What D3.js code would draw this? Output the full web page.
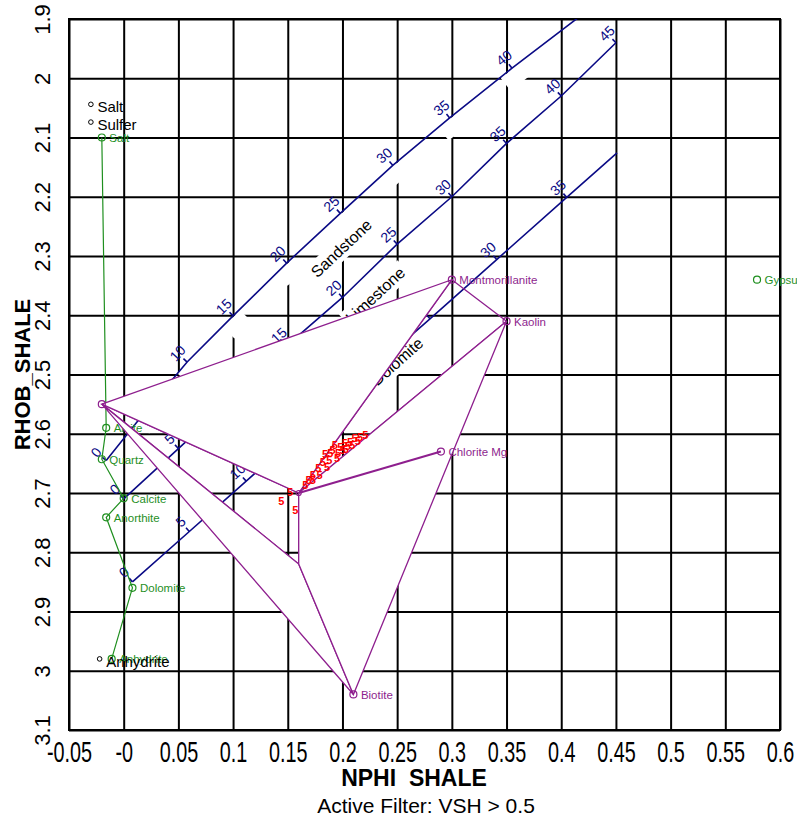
<!DOCTYPE html>
<html>
<head>
<meta charset="utf-8">
<style>
  body { margin: 0; background: #fff; }
  svg { display: block; font-family: "Liberation Sans", Arial, sans-serif; }
</style>
</head>
<body>
<svg width="797" height="822"></svg>
<script src="https://d3js.org/d3.v7.min.js"></script>
<script>

// axes
var xTicks = [-0.05, 0, 0.05, 0.1, 0.15, 0.2, 0.25, 0.3, 0.35, 0.4, 0.45, 0.5, 0.55, 0.6];
var xTickLabels = ["-0.05", "-0", "0.05", "0.1", "0.15", "0.2", "0.25", "0.3", "0.35", "0.4", "0.45", "0.5", "0.55", "0.6"];
var yTicks = [1.9, 2, 2.1, 2.2, 2.3, 2.4, 2.5, 2.6, 2.7, 2.8, 2.9, 3, 3.1];
var yTickLabels = ["1.9", "2", "2.1", "2.2", "2.3", "2.4", "2.5", "2.6", "2.7", "2.8", "2.9", "3", "3.1"];

// porosity lines (null = end of line, no tick)
var sandPhi  = [0, 5, 10, 15, 20, 25, 30, 35, 40, null];
var sandNphi = [-0.016, 0.020, 0.058, 0.100, 0.149, 0.198, 0.246, 0.298, 0.355, 0.416];
var sandRhob = [2.645, 2.562, 2.479, 2.401, 2.312, 2.228, 2.147, 2.067, 1.983, 1.897];

var limePhi  = [0, 5, 10, 15, 20, 25, 30, 35, 40, 45];
var limeNphi = [0, 0.05, 0.10, 0.15, 0.20, 0.25, 0.30, 0.35, 0.40, 0.45];
var limeRhob = [2.71, 2.625, 2.54, 2.45, 2.37, 2.28, 2.20, 2.11, 2.03, 1.94];

var dolPhi  = [0, 5, 10, 15, 20, 25, 30, 35, null];
var dolNphi = [0.008, 0.060, 0.112, 0.165, 0.222, 0.280, 0.341, 0.405, 0.451];
var dolRhob = [2.85, 2.765, 2.68, 2.593, 2.50, 2.406, 2.306, 2.201, 2.126];

var lithNames = ["Sandstone", "Limestone", "Dolomite"];
var lithLabelNphi = [0.199, 0.230, 0.250];
var lithLabelRhob = [2.287, 2.366, 2.478];

// mineral line (green)
var minNames = ["Salt", "Albite", "Quartz", "Calcite", "Anorthite", "Dolomite", "Anhydrite"];
var minNphi  = [-0.020, -0.016, -0.020, 0.000, -0.016, 0.008, -0.011];
var minRhob  = [2.10, 2.59, 2.643, 2.709, 2.741, 2.86, 2.98];
var gypsum = {name: "Gypsum", nphi: 0.579, rhob: 2.34};

// other minerals (black)
var otherNames = ["Salt", "Sulfer", "Anhydrite"];
var otherNphi  = [-0.030, -0.030, -0.022];
var otherRhob  = [2.044, 2.074, 2.98];

// clay points (purple): dry point, clays, wet shale points
var clayNames = ["", "Montmorillanite", "Kaolin", "Chlorite Mg", "Biotite", "", ""];
var clayNphi  = [-0.02, 0.30, 0.35, 0.29, 0.21, 0.16, 0.16];
var clayRhob  = [2.55, 2.34, 2.41, 2.63, 3.04, 2.70, 2.82];
var solidPolys = [[0, 1, 5], [0, 6, 4], [5, 2, 4, 6]];
var openPolys  = [[1, 2, 5], [0, 5, 6]];
var clayEdges  = [[5, 3]];

// shale samples (VSH > 0.5)
var sampleNphi = [0.152, 0.144, 0.157, 0.166, 0.169, 0.173, 0.173, 0.178, 0.179, 0.182, 0.184, 0.186,
                  0.189, 0.191, 0.193, 0.195, 0.198, 0.200, 0.202, 0.203, 0.207, 0.209, 0.211, 0.214,
                  0.216, 0.221, 0.196, 0.188, 0.205];
var sampleRhob = [2.699, 2.713, 2.729, 2.687, 2.679, 2.670, 2.679, 2.658, 2.670, 2.648, 2.635, 2.657,
                  2.633, 2.628, 2.620, 2.642, 2.623, 2.628, 2.616, 2.626, 2.615, 2.620, 2.608, 2.613,
                  2.606, 2.603, 2.632, 2.645, 2.621];

var svg = d3.select("svg");
var mLeft = 69, mTop = 19, w = 711, h = 711;

var x = d3.scaleLinear().domain([-0.05, 0.6]).range([mLeft, mLeft + w]);
var y = d3.scaleLinear().domain([1.9, 3.1]).range([mTop, mTop + h]);

var navy = "#0a0a85", green = "#1f8f1f", purple = "#8e1f8e";

// grid + tick labels
var gx = svg.append("g")
    .attr("transform", "translate(0," + (mTop + h) + ")")
    .call(d3.axisBottom(x).tickValues(xTicks).tickSize(-h).tickSizeOuter(0).tickPadding(11)
      .tickFormat(function(d, i) { return xTickLabels[i]; }));
gx.attr("font-family", null);
gx.select(".domain").remove();
gx.selectAll(".tick line").attr("stroke", "#000").attr("stroke-width", 2);
gx.selectAll(".tick text").attr("fill", "#000").attr("font-size", 30).attr("transform", "scale(0.66,1)");

var gy = svg.append("g")
    .attr("transform", "translate(" + mLeft + ",0)")
    .call(d3.axisLeft(y).tickValues(yTicks).tickSize(-w).tickSizeOuter(0)
      .tickFormat(function(d, i) { return yTickLabels[i]; }));
gy.attr("font-family", null);
gy.select(".domain").remove();
gy.selectAll(".tick line").attr("stroke", "#000").attr("stroke-width", 2);
gy.selectAll(".tick text")
    .attr("fill", "#000").attr("font-size", 22)
    .attr("text-anchor", "middle").attr("x", 0).attr("y", -19).attr("dy", 0)
    .attr("transform", "rotate(-90)");

svg.append("rect").attr("x", mLeft).attr("y", mTop).attr("width", w).attr("height", h)
    .attr("fill", "none").attr("stroke", "#000").attr("stroke-width", 2);

svg.append("text").attr("transform", "translate(30," + (mTop + h / 2) + ") rotate(-90)")
    .attr("text-anchor", "middle").attr("font-weight", "bold").attr("font-size", 22)
    .text("RHOB_SHALE");
svg.append("text").attr("x", 414).attr("y", 786).attr("text-anchor", "middle")
    .attr("font-weight", "bold").attr("font-size", 23).attr("xml:space", "preserve")
    .text("NPHI  SHALE");
svg.append("text").attr("x", 426).attr("y", 813).attr("text-anchor", "middle")
    .attr("font-size", 21).text("Active Filter: VSH > 0.5");

// data layers
svg.append("clipPath").attr("id", "plot").append("rect")
    .attr("x", mLeft).attr("y", mTop).attr("width", w).attr("height", h);
var plot = svg.append("g").attr("clip-path", "url(#plot)");

var line = d3.line().x(function(d) { return d.px; }).y(function(d) { return d.py; });

function lithPoints(phi, nphi, rhob) {
  var pts = phi.map(function(p, i) { return {phi: p, px: x(nphi[i]), py: y(rhob[i])}; });
  pts.forEach(function(d, i) {
    var a = pts[Math.max(i - 1, 0)], b = pts[Math.min(i + 1, pts.length - 1)];
    var dx = b.px - a.px, dy = b.py - a.py, l = Math.sqrt(dx * dx + dy * dy);
    d.ux = dx / l; d.uy = dy / l;
    d.nx = d.uy; d.ny = -d.ux;   // normal toward upper left
    d.ang = Math.atan2(dy, dx) * 180 / Math.PI;
  });
  return pts;
}

var liths = [
  lithPoints(sandPhi, sandNphi, sandRhob),
  lithPoints(limePhi, limeNphi, limeRhob),
  lithPoints(dolPhi, dolNphi, dolRhob)
];

// white boxes left under the sandstone tick labels
plot.selectAll(".tbox").data(liths[0].filter(function(d) { return d.phi !== null && d.phi > 0; }))
  .enter().append("rect")
    .attr("transform", function(d) {
      return "translate(" + (d.px - d.nx * 9 - d.ux * 3) + "," + (d.py - d.ny * 9 - d.uy * 3) + ") rotate(" + d.ang + ")";
    })
    .attr("x", -12).attr("y", -8).attr("width", 24).attr("height", 16).attr("fill", "#fff");

// lithology names with white background
lithNames.forEach(function(name, i) {
  var pts = liths[i], a = pts[0], b = pts[pts.length - 1];
  var ang = Math.atan2(b.py - a.py, b.px - a.px) * 180 / Math.PI;
  var g = plot.append("g")
      .attr("transform", "translate(" + x(lithLabelNphi[i]) + "," + y(lithLabelRhob[i]) + ") rotate(" + ang + ")");
  var t = g.append("text").attr("text-anchor", "middle").attr("dy", "0.35em")
      .attr("font-size", 16).attr("fill", "#000").text(name);
  var bb = t.node().getBBox();
  g.insert("rect", "text").attr("x", bb.x - 3).attr("y", bb.y - 2)
      .attr("width", bb.width + 6).attr("height", bb.height + 4).attr("fill", "#fff");
});

// porosity lines, ticks and labels
liths.forEach(function(pts) {
  plot.append("path").datum(pts).attr("d", line)
      .attr("fill", "none").attr("stroke", navy).attr("stroke-width", 1.6);
  var ticks = pts.filter(function(d) { return d.phi !== null; });
  plot.selectAll(null).data(ticks).enter().append("line")
      .attr("x1", function(d) { return d.px; }).attr("y1", function(d) { return d.py; })
      .attr("x2", function(d) { return d.px + d.nx * 5; }).attr("y2", function(d) { return d.py + d.ny * 5; })
      .attr("stroke", navy).attr("stroke-width", 1.6);
  plot.selectAll(null).data(ticks).enter().append("text")
      .attr("transform", function(d) {
        return "translate(" + (d.px + d.nx * 13) + "," + (d.py + d.ny * 13) + ") rotate(" + d.ang + ")";
      })
      .attr("text-anchor", "middle").attr("dy", "0.35em")
      .attr("font-size", 14).attr("fill", navy)
      .text(function(d) { return d.phi; });
});

// green mineral line (labels are not clipped to the plot)
var minPts = minNames.map(function(n, i) { return {name: n, px: x(minNphi[i]), py: y(minRhob[i])}; });
plot.append("path").datum(minPts).attr("d", line)
    .attr("fill", "none").attr("stroke", green).attr("stroke-width", 1.2);
minPts.push({name: gypsum.name, px: x(gypsum.nphi), py: y(gypsum.rhob)});
var minLayer = svg.append("g");
minLayer.selectAll(".minc").data(minPts).enter().append("circle")
    .attr("cx", function(d) { return d.px; }).attr("cy", function(d) { return d.py; })
    .attr("r", 3.5).attr("fill", "none").attr("stroke", green).attr("stroke-width", 1.2);
minLayer.selectAll(".mint").data(minPts).enter().append("text")
    .attr("x", function(d) { return d.px + 7.5; }).attr("y", function(d) { return d.py + 4.5; })
    .attr("font-size", 11.5).attr("fill", green)
    .text(function(d) { return d.name; });

// clay polygons
var clayLayer = svg.append("g").attr("clip-path", "url(#plot)");
var clayPts = clayNames.map(function(n, i) { return {name: n, px: x(clayNphi[i]), py: y(clayRhob[i])}; });
function polyPath(idx) { return line(idx.map(function(k) { return clayPts[k]; })) + "Z"; }
clayLayer.selectAll(".open").data(openPolys).enter().append("path")
    .attr("d", polyPath).attr("fill", "none").attr("stroke", purple).attr("stroke-width", 1.3);
clayLayer.selectAll(".solid").data(solidPolys).enter().append("path")
    .attr("d", polyPath).attr("fill", "#fff").attr("stroke", purple).attr("stroke-width", 1.3);
clayLayer.selectAll(".edge").data(clayEdges).enter().append("path")
    .attr("d", function(e) { return line(e.map(function(k) { return clayPts[k]; })); })
    .attr("fill", "none").attr("stroke", purple).attr("stroke-width", 2);

// black reference minerals
var top2 = svg.append("g");
var otherPts = otherNames.map(function(n, i) { return {name: n, px: x(otherNphi[i]), py: y(otherRhob[i])}; });
top2.selectAll(".oc").data(otherPts).enter().append("circle")
    .attr("cx", function(d) { return d.px; }).attr("cy", function(d) { return d.py; })
    .attr("r", 2.3).attr("fill", "#fff").attr("stroke", "#000").attr("stroke-width", 1);
top2.selectAll(".ot").data(otherPts).enter().append("text")
    .attr("x", function(d) { return d.px + 6.5; }).attr("y", function(d) { return d.py + 8; })
    .attr("font-size", 15).attr("fill", "#000")
    .text(function(d) { return d.name; });

// clay markers and names
top2.selectAll(".cc").data(clayPts).enter().append("circle")
    .attr("cx", function(d) { return d.px; }).attr("cy", function(d) { return d.py; })
    .attr("r", function(d, i) { return i === 5 ? 2.5 : (i === 6 ? 0 : 3.5); })
    .attr("fill", "none").attr("stroke", purple).attr("stroke-width", 1.2);
top2.selectAll(".ct").data(clayPts.filter(function(d) { return d.name; })).enter().append("text")
    .attr("x", function(d) { return d.px + 7.5; }).attr("y", function(d) { return d.py + 4.5; })
    .attr("font-size", 11.5).attr("fill", purple)
    .text(function(d) { return d.name; });

// samples
top2.selectAll(".s").data(sampleNphi).enter().append("text")
    .attr("x", function(d) { return x(d); })
    .attr("y", function(d, i) { return y(sampleRhob[i]); })
    .attr("text-anchor", "middle").attr("dy", "0.35em")
    .attr("font-size", 11).attr("font-weight", "bold").attr("fill", "#f00")
    .text("5");

</script>
</body>
</html>
